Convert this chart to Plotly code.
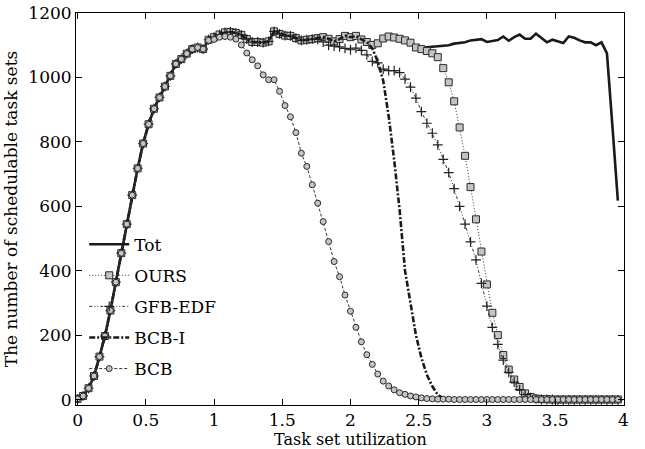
import plotly.graph_objects as go

# Task set utilization, 0.00 .. 3.96 step 0.04
utilization = [round(0.04 * i, 2) for i in range(100)]

tot = [3, 12, 36, 74, 134, 198, 277, 365, 455, 545,
       635, 718, 795, 855, 903, 938, 972, 1005, 1042, 1057,
       1074, 1088, 1093, 1088, 1117, 1125, 1133, 1140, 1141, 1138,
       1132, 1119, 1110, 1110, 1108, 1112, 1143, 1135, 1130, 1129,
       1122, 1115, 1117, 1119, 1122, 1125, 1120, 1112, 1119, 1129,
       1125, 1129, 1118, 1110, 1101, 1106, 1121, 1127, 1124, 1120,
       1115, 1108, 1094, 1091, 1094, 1096, 1097, 1099, 1100, 1105,
       1108, 1109, 1115, 1118, 1119, 1110, 1112, 1116, 1127, 1114,
       1125, 1133, 1120, 1120, 1136, 1122, 1109, 1117, 1113, 1107,
       1127, 1123, 1115, 1109, 1109, 1100, 1109, 1075, 850, 618]

ours = [3, 12, 36, 74, 134, 198, 277, 365, 455, 545,
        635, 718, 795, 855, 903, 938, 972, 1005, 1042, 1057,
        1074, 1088, 1093, 1088, 1117, 1125, 1133, 1140, 1141, 1138,
        1132, 1119, 1110, 1110, 1108, 1112, 1143, 1135, 1130, 1129,
        1122, 1115, 1117, 1119, 1122, 1125, 1120, 1112, 1119, 1129,
        1125, 1129, 1118, 1110, 1101, 1106, 1121, 1127, 1124, 1120,
        1115, 1108, 1093, 1088, 1082, 1075, 1063, 1029, 985, 926,
        845, 757, 660, 560, 460, 358, 270, 201, 139, 94,
        63, 40, 20, 9, 4, 2, 2, 1, 1, 1,
        1, 1, 1, 1, 1, 1, 1, 1, 1, 1]

gfb_edf = [3, 12, 36, 74, 134, 198, 277, 365, 455, 545,
           635, 718, 795, 855, 903, 938, 972, 1005, 1042, 1057,
           1074, 1088, 1093, 1088, 1117, 1125, 1133, 1140, 1141, 1138,
           1132, 1119, 1110, 1110, 1108, 1112, 1143, 1135, 1130, 1129,
           1122, 1115, 1117, 1119, 1118, 1110, 1100, 1097, 1095, 1090,
           1086, 1091, 1084, 1070, 1050, 1045, 1026, 1021, 1021, 1015,
           995, 970, 936, 894, 858, 827, 791, 746, 705, 655,
           600, 545, 490, 434, 361, 291, 225, 172, 123, 85,
           55, 32, 16, 7, 3, 1, 1, 1, 0, 0,
           0, 0, 0, 0, 0, 0, 0, 0, 0, 0]

bcb_i = [3, 12, 36, 74, 134, 198, 277, 365, 455, 545,
         635, 718, 795, 855, 903, 938, 972, 1005, 1042, 1057,
         1074, 1088, 1093, 1088, 1117, 1125, 1133, 1140, 1141, 1138,
         1132, 1119, 1110, 1110, 1108, 1112, 1143, 1135, 1130, 1129,
         1122, 1115, 1117, 1119, 1122, 1125, 1120, 1112, 1119, 1129,
         1125, 1129, 1118, 1110, 1090, 1050, 990, 880, 745, 590,
         400, 295, 200, 130, 78, 42, 15, 5, 1, 0,
         0, 0, 0, 0, 0, 0, 0, 0, 0, 0,
         0, 0, 0, 0, 0, 0, 0, 0, 0, 0,
         0, 0, 0, 0, 0, 0, 0, 0, 0, 0]

bcb = [3, 12, 36, 74, 134, 198, 277, 365, 455, 545,
       635, 718, 795, 855, 903, 938, 972, 1005, 1042, 1057,
       1074, 1088, 1093, 1088, 1115, 1118, 1125, 1127, 1125, 1119,
       1101, 1076, 1055, 1036, 1008, 993, 993, 957, 913, 878,
       829, 765, 724, 667, 610, 553, 491, 429, 382, 325,
       275, 225, 180, 140, 110, 80, 58, 43, 31, 22,
       17, 12, 9, 6, 4, 3, 2, 2, 2, 1,
       1, 1, 1, 1, 1, 1, 1, 1, 1, 1,
       1, 1, 1, 1, 1, 1, 1, 1, 1, 1,
       1, 1, 1, 1, 1, 1, 1, 1, 1, 1]

x_ticks = [0, 0.5, 1, 1.5, 2, 2.5, 3, 3.5, 4]
x_tick_labels = ["0", "0.5", "1", "1.5", "2", "2.5", "3", "3.5", "4"]
y_ticks = [0, 200, 400, 600, 800, 1000, 1200]

FONT = "DejaVu Serif"
FS = 17
INK = "#1a1a1a"

fig = go.Figure()
fig.add_trace(go.Scatter(x=utilization, y=tot, name="Tot", mode="lines", legendgroup="a",
                         line=dict(color=INK, width=2.6)))
fig.add_trace(go.Scatter(x=utilization, y=ours, name="OURS", mode="lines+markers", legendgroup="b",
                         line=dict(color="#333333", width=1, dash="1px,2px"),
                         marker=dict(symbol="square", size=7, color="#c4c4c4",
                                     line=dict(color="#2a2a2a", width=1))))
fig.add_trace(go.Scatter(x=utilization, y=gfb_edf, name="GFB-EDF", mode="lines+markers", legendgroup="c",
                         line=dict(color="#333333", width=1, dash="3px,2px,1px,2px,1px,2px"),
                         marker=dict(symbol="cross-thin", size=7,
                                     line=dict(color="#222222", width=1.2))))
fig.add_trace(go.Scatter(x=utilization, y=bcb_i, name="BCB-I", mode="lines", legendgroup="d",
                         line=dict(color=INK, width=2.6, dash="6px,2px,2px,2px")))
fig.add_trace(go.Scatter(x=utilization, y=bcb, name="BCB", mode="lines+markers", legendgroup="e",
                         line=dict(color="#333333", width=1, dash="3px,2px"),
                         marker=dict(symbol="circle", size=6, color="#c4c4c4",
                                     line=dict(color="#2a2a2a", width=1))))

axis_common = dict(showline=True, linecolor="black", linewidth=1, mirror="ticks",
                   ticks="inside", ticklen=6, tickcolor="black", showgrid=False,
                   zeroline=False, automargin=False,
                   tickfont=dict(family=FONT, size=FS, color="black"))

fig.update_layout(
    width=645, height=449,
    margin=dict(l=76, r=21, t=13, b=44),
    paper_bgcolor="white", plot_bgcolor="white",
    font=dict(family=FONT, size=FS, color="black"),
    xaxis=dict(range=[-0.012, 4.005], tickvals=x_ticks, ticktext=x_tick_labels,
               **axis_common),
    yaxis=dict(range=[-16, 1200], tickvals=y_ticks,
               title=dict(text="The number of schedulable task sets", standoff=6,
                          font=dict(family=FONT, size=FS)),
               **axis_common),
    legend=dict(x=0.015, y=0.455, xanchor="left", yanchor="top",
                bgcolor="rgba(0,0,0,0)", font=dict(family=FONT, size=FS),
                itemwidth=40, tracegroupgap=6),
    showlegend=True,
    annotations=[dict(text="Task set utilization", xref="paper", yref="paper",
                      x=0.5, y=0, xanchor="center", yanchor="top", yshift=-23,
                      showarrow=False, font=dict(family=FONT, size=16, color="black"))],
)

fig.write_html("out.html", config={"displayModeBar": False},
               post_script="document.body.style.margin='0px';document.body.style.overflow='hidden';")
